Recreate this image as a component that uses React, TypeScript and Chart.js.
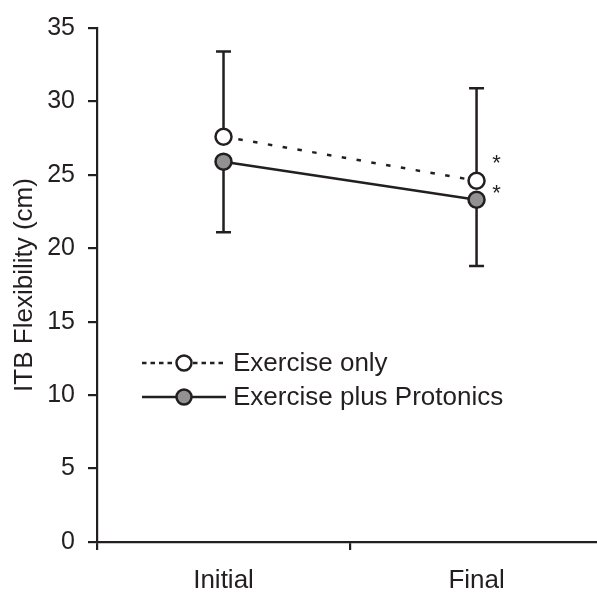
import React, { useEffect, useRef } from 'react';
import { Chart, registerables } from 'chart.js';

Chart.register(...registerables);

const categories = ['Initial', 'Final'];
const seriesNames = ['Exercise only', 'Exercise plus Protonics'];
const exerciseOnly = [27.6, 24.6];
const exercisePlusProtonics = [25.9, 23.3];
const exerciseOnlyUpper = [33.4, 30.9];
const protonicsLower = [21.1, 18.8];
const asteriskValues = [26.2, 24.2];
const yMin = 0;
const yMax = 35;
const yStep = 5;

const DARK = '#231f20';
const GRAY = '#929292';
const FONT_FAMILY = '"Liberation Sans", Arial, sans-serif';
const LABEL_SIZE = 26;
const TICK_SIZE = 25;
const LINE_W = 2.5;

const overlayPlugin = {
  id: 'overlay',
  beforeDatasetsDraw(chart: any) {
    const { ctx, scales } = chart;
    const xs = scales.x;
    const ys = scales.y;
    ctx.save();
    ctx.strokeStyle = DARK;
    ctx.lineWidth = LINE_W;
    ctx.setLineDash([]);
    const cap = 7.5;
    categories.forEach((_, i) => {
      const x = xs.getPixelForValue(i);
      const segs = [
        [exerciseOnly[i], exerciseOnlyUpper[i]],
        [exercisePlusProtonics[i], protonicsLower[i]],
      ];
      segs.forEach(([a, b]) => {
        const ya = ys.getPixelForValue(a);
        const yb = ys.getPixelForValue(b);
        ctx.beginPath();
        ctx.moveTo(x, ya);
        ctx.lineTo(x, yb);
        ctx.moveTo(x - cap, yb);
        ctx.lineTo(x + cap, yb);
        ctx.stroke();
      });
    });
    ctx.restore();
  },
  afterDraw(chart: any) {
    const { ctx, scales, chartArea } = chart;
    const xs = scales.x;
    const ys = scales.y;
    ctx.save();
    // asterisks next to the final points
    ctx.fillStyle = DARK;
    ctx.font = `22px ${FONT_FAMILY}`;
    ctx.textAlign = 'center';
    ctx.textBaseline = 'alphabetic';
    const fx = xs.getPixelForValue(categories.length - 1) + 20;
    asteriskValues.forEach((v) => {
      ctx.fillText('*', fx, ys.getPixelForValue(v) + 13);
    });
    // legend
    const left = chartArea.left + 45;
    const rows = [chartArea.top + 335, chartArea.top + 369];
    chart.data.datasets.forEach((ds: any, i: number) => {
      const y = rows[i];
      ctx.strokeStyle = DARK;
      ctx.lineWidth = LINE_W;
      ctx.setLineDash(i === 0 ? [4.5, 4] : []);
      ctx.beginPath();
      ctx.moveTo(left, y);
      ctx.lineTo(left + 84, y);
      ctx.stroke();
      ctx.setLineDash([]);
      ctx.beginPath();
      ctx.arc(left + 42, y, 7.5, 0, Math.PI * 2);
      ctx.fillStyle = ds.pointBackgroundColor;
      ctx.fill();
      ctx.stroke();
      ctx.fillStyle = DARK;
      ctx.font = `${LABEL_SIZE}px ${FONT_FAMILY}`;
      ctx.textAlign = 'left';
      ctx.textBaseline = 'middle';
      ctx.fillText(ds.label, left + 91, y + 1);
    });
    ctx.restore();
  },
};

export default function App() {
  const canvasRef = useRef<HTMLCanvasElement | null>(null);

  useEffect(() => {
    if (!canvasRef.current) return;
    const labelFont = { family: FONT_FAMILY, size: LABEL_SIZE };
    const tickFont = { family: FONT_FAMILY, size: TICK_SIZE };
    const chart = new Chart(canvasRef.current, {
      type: 'line',
      data: {
        datasets: [
          {
            label: seriesNames[0],
            data: exerciseOnly.map((v, i) => ({ x: i, y: v })),
            borderColor: DARK,
            borderWidth: LINE_W,
            borderDash: [4.5, 10.5],
            pointRadius: 8,
            pointHoverRadius: 8,
            pointBackgroundColor: '#ffffff',
            pointBorderColor: DARK,
            pointBorderWidth: LINE_W,
            fill: false,
            clip: false,
          },
          {
            label: seriesNames[1],
            data: exercisePlusProtonics.map((v, i) => ({ x: i, y: v })),
            borderColor: DARK,
            borderWidth: LINE_W,
            pointRadius: 8,
            pointHoverRadius: 8,
            pointBackgroundColor: GRAY,
            pointBorderColor: DARK,
            pointBorderWidth: LINE_W,
            fill: false,
            clip: false,
          },
        ],
      },
      options: {
        responsive: false,
        animation: false,
        layout: { autoPadding: false, padding: { top: 25, right: 0, bottom: 0, left: 0 } },
        plugins: {
          legend: { display: false },
          tooltip: { enabled: false },
        },
        scales: {
          x: {
            type: 'linear',
            min: -0.5,
            max: 1.476,
            afterBuildTicks: (s: any) => {
              s.ticks = categories.map((_, i) => ({ value: i }));
            },
            afterFit: (s: any) => {
              s.height = 52;
              s.paddingLeft = 0;
              s.paddingRight = 0;
            },
            ticks: {
              callback: (v: any) => categories[v] ?? '',
              font: labelFont,
              color: DARK,
              padding: 15,
              autoSkip: false,
              maxRotation: 0,
            },
            grid: {
              offset: true,
              drawOnChartArea: false,
              tickLength: 8,
              lineWidth: 2.2,
              color: DARK,
            },
            border: { display: true, color: DARK, width: 2.2 },
          },
          y: {
            min: yMin,
            max: yMax,
            afterFit: (s: any) => {
              s.width = 97;
            },
            ticks: { stepSize: yStep, font: tickFont, color: DARK, padding: 13 },
            grid: {
              drawOnChartArea: false,
              tickLength: 9,
              lineWidth: 2.2,
              color: DARK,
            },
            border: { display: true, color: DARK, width: 2.2 },
            title: {
              display: true,
              text: 'ITB Flexibility (cm)',
              font: labelFont,
              color: DARK,
              padding: { top: 9, bottom: 0 },
            },
          },
        },
      },
      plugins: [overlayPlugin],
    });
    return () => chart.destroy();
  }, []);

  return (
    <div style={{ position: 'absolute', left: 0, top: 0, width: 597, height: 594 }}>
      <canvas ref={canvasRef} width={597} height={594} style={{ display: 'block' }} />
    </div>
  );
}
